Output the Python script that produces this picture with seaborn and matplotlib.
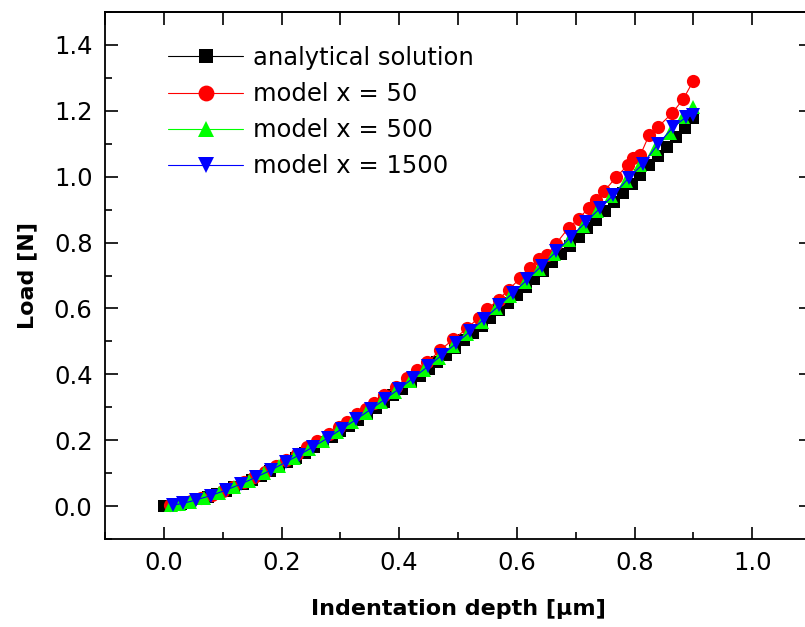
"""
Load vs indentation depth: analytical solution compared with three model runs
"""

import matplotlib
matplotlib.use("Agg")
import matplotlib.pyplot as plt
from matplotlib.ticker import MultipleLocator
import seaborn as sns
import numpy as np

# analytical solution (black squares)
depth_analytical = [0.000, 0.015, 0.030, 0.045, 0.060, 0.075, 0.090, 0.105, 0.120, 0.135,
                    0.150, 0.165, 0.180, 0.195, 0.210, 0.225, 0.240, 0.255, 0.270, 0.285,
                    0.300, 0.315, 0.330, 0.345, 0.360, 0.375, 0.390, 0.405, 0.420, 0.435,
                    0.450, 0.465, 0.480, 0.495, 0.510, 0.525, 0.540, 0.555, 0.570, 0.585,
                    0.600, 0.615, 0.630, 0.645, 0.660, 0.675, 0.690, 0.705, 0.720, 0.735,
                    0.750, 0.765, 0.780, 0.795, 0.810, 0.825, 0.840, 0.855, 0.870, 0.885,
                    0.900]
load_analytical = [0.000, 0.003, 0.007, 0.013, 0.020, 0.028, 0.037, 0.047, 0.057, 0.068,
                   0.080, 0.092, 0.105, 0.119, 0.133, 0.147, 0.162, 0.178, 0.194, 0.210,
                   0.227, 0.244, 0.262, 0.280, 0.298, 0.317, 0.336, 0.356, 0.376, 0.396,
                   0.417, 0.438, 0.459, 0.481, 0.503, 0.525, 0.548, 0.571, 0.594, 0.617,
                   0.641, 0.666, 0.690, 0.715, 0.740, 0.765, 0.791, 0.817, 0.843, 0.870,
                   0.896, 0.923, 0.951, 0.978, 1.006, 1.034, 1.062, 1.091, 1.120, 1.149,
                   1.178]

# model x = 50 (red circles)
depth_x50 = [0.010, 0.028, 0.046, 0.064, 0.082, 0.100, 0.118, 0.136, 0.154, 0.172,
             0.190, 0.208, 0.226, 0.244, 0.261, 0.280, 0.297, 0.312, 0.329, 0.343,
             0.357, 0.374, 0.394, 0.414, 0.431, 0.448, 0.470, 0.492, 0.516, 0.535,
             0.550, 0.569, 0.586, 0.606, 0.623, 0.637, 0.652, 0.666, 0.688, 0.705,
             0.722, 0.735, 0.749, 0.769, 0.789, 0.798, 0.810, 0.825, 0.840, 0.864,
             0.883, 0.900]
load_x50 = [0.002, 0.007, 0.014, 0.023, 0.034, 0.046, 0.059, 0.073, 0.088, 0.104,
            0.121, 0.139, 0.157, 0.178, 0.197, 0.219, 0.239, 0.256, 0.278, 0.296,
            0.314, 0.337, 0.362, 0.390, 0.413, 0.436, 0.474, 0.506, 0.540, 0.572,
            0.598, 0.627, 0.657, 0.692, 0.723, 0.750, 0.763, 0.795, 0.845, 0.872,
            0.905, 0.930, 0.957, 0.999, 1.036, 1.057, 1.066, 1.127, 1.151, 1.193,
            1.236, 1.291]

# model x = 500 (green triangles)
depth_x500 = [0.012, 0.025, 0.045, 0.068, 0.093, 0.119, 0.144, 0.170, 0.195, 0.221,
              0.246, 0.270, 0.295, 0.320, 0.344, 0.369, 0.393, 0.418, 0.442, 0.467,
              0.491, 0.516, 0.540, 0.565, 0.589, 0.614, 0.638, 0.663, 0.688, 0.712,
              0.737, 0.760, 0.785, 0.810, 0.835, 0.860, 0.882, 0.900]
load_x500 = [0.002, 0.006, 0.013, 0.025, 0.040, 0.058, 0.077, 0.099, 0.121, 0.146,
             0.172, 0.198, 0.226, 0.255, 0.284, 0.316, 0.347, 0.381, 0.414, 0.450,
             0.485, 0.523, 0.560, 0.600, 0.639, 0.680, 0.721, 0.764, 0.808, 0.851,
             0.897, 0.940, 0.987, 1.035, 1.084, 1.134, 1.180, 1.213]

# model x = 1500 (blue triangles)
depth_x1500 = [0.015, 0.032, 0.054, 0.080, 0.105, 0.131, 0.156, 0.182, 0.207, 0.229,
               0.254, 0.279, 0.303, 0.327, 0.352, 0.376, 0.400, 0.424, 0.449, 0.473,
               0.497, 0.521, 0.545, 0.570, 0.594, 0.618, 0.642, 0.667, 0.692, 0.717,
               0.742, 0.764, 0.790, 0.815, 0.840, 0.866, 0.887, 0.900]
load_x1500 = [0.003, 0.008, 0.018, 0.032, 0.048, 0.067, 0.087, 0.109, 0.133, 0.154,
              0.180, 0.207, 0.235, 0.263, 0.294, 0.325, 0.356, 0.389, 0.424, 0.459,
              0.494, 0.531, 0.569, 0.609, 0.648, 0.688, 0.729, 0.773, 0.817, 0.862,
              0.905, 0.944, 0.996, 1.040, 1.099, 1.151, 1.180, 1.187]

series = [
    ("analytical solution", depth_analytical, load_analytical, "black", "s", 8.0),
    ("model x = 50", depth_x50, load_x50, "#ff0000", "o", 9.5),
    ("model x = 500", depth_x500, load_x500, "#00ff00", "^", 10.0),
    ("model x = 1500", depth_x1500, load_x1500, "#0000ff", "v", 10.0),
]

sns.set_style("ticks")
plt.rcParams["font.family"] = ["DejaVu Sans"]
plt.rcParams["text.color"] = "black"
plt.rcParams["axes.labelcolor"] = "black"
plt.rcParams["xtick.color"] = "black"
plt.rcParams["ytick.color"] = "black"
plt.rcParams["axes.edgecolor"] = "black"

fig = plt.figure(figsize=(8.05, 6.27), dpi=100)
ax = fig.add_axes([105 / 805, 88 / 627, 706 / 805, 527 / 627])

for label, xs, ys, color, marker, ms in series:
    sns.lineplot(x=xs, y=ys, ax=ax, color=color, marker=marker, markersize=ms,
                 markeredgewidth=0, linewidth=0.8, label=label,
                 estimator=None, sort=False)

ax.set_xlim(-0.1, 1.1)
ax.set_ylim(-0.1, 1.5)
ax.xaxis.set_major_locator(MultipleLocator(0.2))
ax.xaxis.set_minor_locator(MultipleLocator(0.1))
ax.yaxis.set_major_locator(MultipleLocator(0.2))
ax.yaxis.set_minor_locator(MultipleLocator(0.1))
ax.tick_params(which="major", direction="in", length=9, width=1.2, labelsize=17.5,
               pad=9, colors="black")
ax.tick_params(which="minor", direction="in", length=5, width=1.2, colors="black")

# unlabeled ticks on the top and right frame
top = ax.secondary_xaxis("top")
top.xaxis.set_major_locator(MultipleLocator(0.1))
top.tick_params(direction="in", length=9, width=1.2, labeltop=False, colors="black")
right = ax.secondary_yaxis("right")
right.yaxis.set_major_locator(MultipleLocator(0.2))
right.tick_params(direction="in", length=9, width=1.2, labelright=False, colors="black")

for spine in ax.spines.values():
    spine.set_linewidth(1.3)
    spine.set_color("black")
for sax in (top, right):
    for spine in sax.spines.values():
        spine.set_linewidth(1.3)
        spine.set_color("black")

ax.set_xlabel("Indentation depth [\u00b5m]", fontsize=16, fontweight="bold",
              labelpad=17, color="black")
ax.set_ylabel("Load [N]", fontsize=16, fontweight="bold", labelpad=12, color="black")

ax.legend(loc="upper left", bbox_to_anchor=(168 / 805, 1 - 46 / 627),
          bbox_transform=fig.transFigure, frameon=False, fontsize=17.5,
          borderpad=0, borderaxespad=0, handlelength=3.1, handletextpad=0.4,
          labelspacing=0.5, markerscale=1.2, numpoints=1)

fig.savefig("out.png", dpi=100)
